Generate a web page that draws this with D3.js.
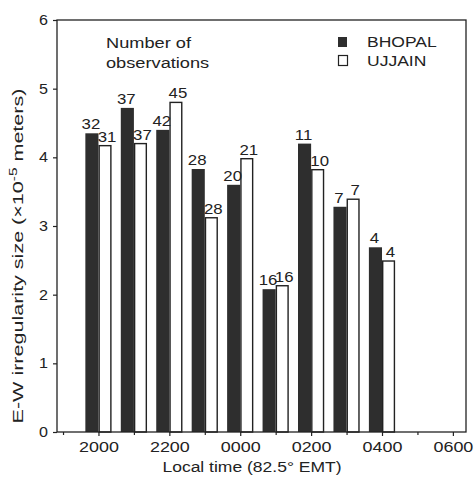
<!DOCTYPE html>
<html><head><meta charset="utf-8">
<script src="https://cdn.jsdelivr.net/npm/d3@7"></script>
<style>body{margin:0;background:#fff}svg{display:block}text{font-family:"Liberation Sans",Arial,sans-serif;fill:#222}</style>
</head><body>
<script>
const hours = [20, 21, 22, 23, 24, 25, 26, 27, 28];
const bhopal = [4.35, 4.72, 4.40, 3.83, 3.60, 2.08, 4.20, 3.28, 2.69];
const ujjain = [4.17, 4.20, 4.80, 3.12, 3.98, 2.13, 3.82, 3.39, 2.49];
const bhopalN = [32, 37, 42, 28, 20, 16, 11, 7, 4];
const ujjainN = [31, 37, 45, 28, 21, 16, 10, 7, 4];
const xTickHours = [20, 22, 24, 26, 28, 30];
const xTickLabels = ["2000", "2200", "0000", "0200", "0400", "0600"];
const yTicks = [0, 1, 2, 3, 4, 5, 6];

const W = 475, H = 482;
const FS = 14, STRETCH = 1.3;
const svg = d3.select("body").append("svg").attr("width", W).attr("height", H);
const x = d3.scaleLinear().domain([18.83, 30.37]).range([57, 466]);
const y = d3.scaleLinear().domain([0, 6]).range([432, 20]);
const bw = x(20.37) - x(20);

function stretch(sel, f) {
  sel.each(function () {
    const len = this.getComputedTextLength();
    d3.select(this).attr("textLength", len * f).attr("lengthAdjust", "spacingAndGlyphs");
  });
}

// bars
const g = svg.append("g");
g.selectAll(".b").data(hours).enter().append("rect")
  .attr("x", (d) => x(d) - bw).attr("width", bw)
  .attr("y", (d, i) => y(bhopal[i])).attr("height", (d, i) => y(0) - y(bhopal[i]))
  .attr("fill", "#2e2e2e");
g.selectAll(".u").data(hours).enter().append("rect")
  .attr("x", (d) => x(d) + 0.7).attr("width", bw - 1.4)
  .attr("y", (d, i) => y(ujjain[i])).attr("height", (d, i) => y(0) - y(ujjain[i]))
  .attr("fill", "#fff").attr("stroke", "#222").attr("stroke-width", 1.4);

// count labels
const bl = g.selectAll(".bl").data(hours).enter().append("text")
  .attr("x", (d) => x(d) - bw / 2 - 1).attr("y", (d, i) => y(bhopal[i]) - 4)
  .attr("text-anchor", "middle").attr("font-size", FS).text((d, i) => bhopalN[i]);
const ul = g.selectAll(".ul").data(hours).enter().append("text")
  .attr("x", (d) => x(d) + bw / 2 + 2).attr("y", (d, i) => y(ujjain[i]) - 4)
  .attr("text-anchor", "middle").attr("font-size", FS).text((d, i) => ujjainN[i]);
stretch(bl, 1.2); stretch(ul, 1.2);

// frame
svg.append("rect").attr("x", x.range()[0]).attr("y", y(6)).attr("width", x.range()[1] - x.range()[0])
  .attr("height", y(0) - y(6)).attr("fill", "none").attr("stroke", "#222").attr("stroke-width", 1.3);

// y axis
const ya = svg.append("g").attr("transform", `translate(${x.range()[0]},0)`)
  .call(d3.axisLeft(y).tickValues(yTicks).tickFormat(d3.format("d")).tickSize(4).tickPadding(5));
ya.select(".domain").remove();
ya.selectAll("line").attr("stroke", "#222").attr("stroke-width", 1.2);
ya.selectAll("text").attr("font-size", FS).attr("font-family", "Liberation Sans, Arial, sans-serif").attr("fill", "#222");
stretch(ya.selectAll("text"), 1.15);

// x axis
const xa = svg.append("g").attr("transform", `translate(0,${y(0)})`)
  .call(d3.axisBottom(x).tickValues(xTickHours).tickFormat((d, i) => xTickLabels[i]).tickSize(4).tickPadding(6));
xa.select(".domain").remove();
xa.selectAll("line").attr("stroke", "#222").attr("stroke-width", 1.2);
xa.selectAll("text").attr("font-size", FS).attr("font-family", "Liberation Sans, Arial, sans-serif").attr("fill", "#222");
stretch(xa.selectAll("text"), 1.28);
const xm = svg.append("g").attr("transform", `translate(0,${y(0)})`)
  .call(d3.axisBottom(x).tickValues([19, 21, 23, 25, 27, 29]).tickFormat("").tickSize(3));
xm.select(".domain").remove();
xm.selectAll("line").attr("stroke", "#222").attr("stroke-width", 1.2);

// axis titles
const xt = svg.append("text").attr("x", 252).attr("y", 472).attr("text-anchor", "middle").attr("font-size", FS)
  .text("Local time (82.5° EMT)");
stretch(xt, 1.25);
const yt = svg.append("text").attr("text-anchor", "middle").attr("font-size", FS);
yt.append("tspan").text("E-W irregularity size (×10");
yt.append("tspan").attr("font-size", 10).attr("dy", -6).text("-5");
yt.append("tspan").attr("dy", 6).text(" meters)");
const ytw = yt.node().getBBox().width;
yt.attr("transform", `translate(23,256) rotate(-90) scale(${335 / ytw},1)`);

// annotation
const a1 = svg.append("text").attr("x", 106).attr("y", 48).attr("font-size", FS).text("Number of");
const a2 = svg.append("text").attr("x", 106).attr("y", 68).attr("font-size", FS).text("observations");
stretch(a1, 1.3); stretch(a2, 1.3);

// legend
svg.append("rect").attr("x", 338).attr("y", 37).attr("width", 9).attr("height", 10).attr("fill", "#2e2e2e");
svg.append("rect").attr("x", 338.5).attr("y", 55.5).attr("width", 9).attr("height", 10).attr("fill", "#fff").attr("stroke", "#222").attr("stroke-width", 1.2);
const l1 = svg.append("text").attr("x", 367).attr("y", 47).attr("font-size", FS).text("BHOPAL");
const l2 = svg.append("text").attr("x", 367).attr("y", 66).attr("font-size", FS).text("UJJAIN");
stretch(l1, 1.25); stretch(l2, 1.25);
</script>
</body></html>
